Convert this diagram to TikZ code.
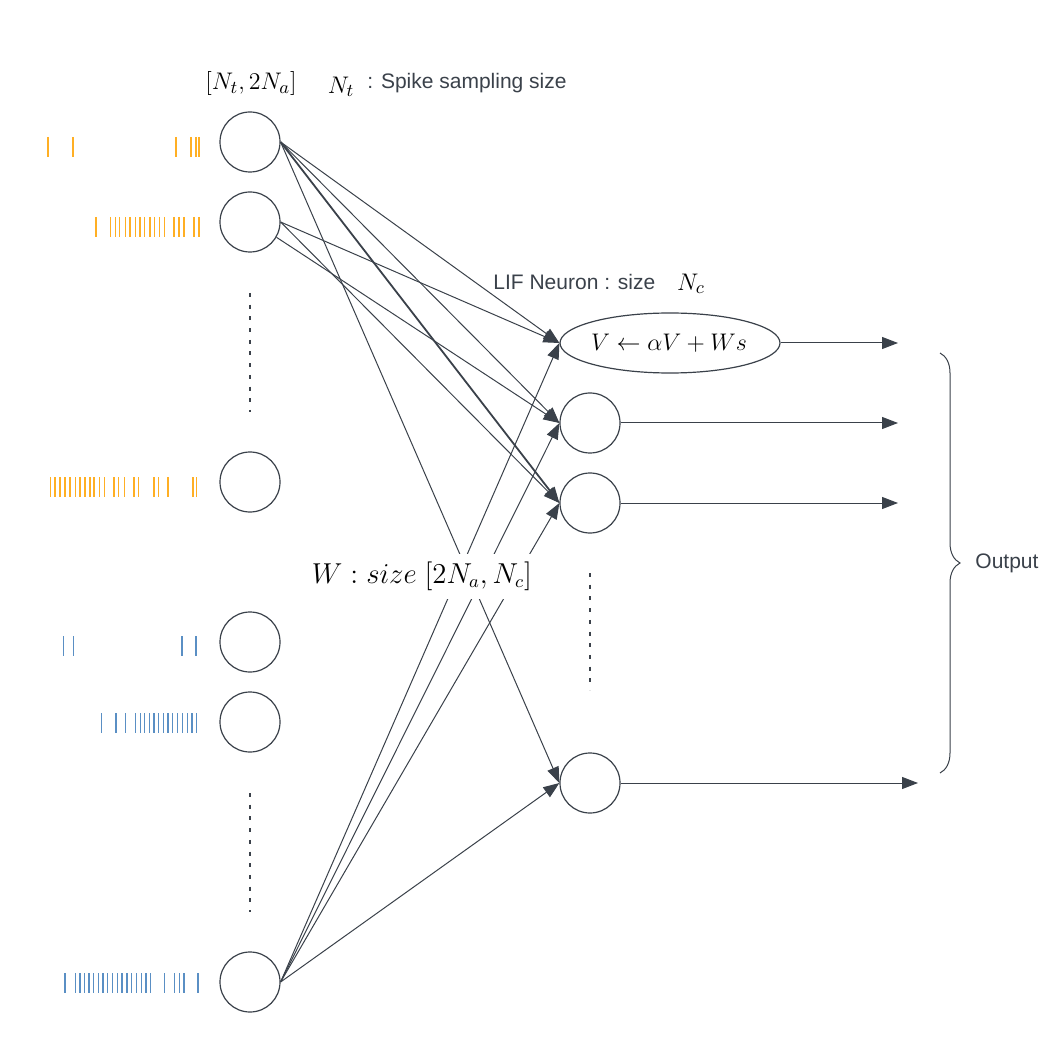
\documentclass[tikz,border=0pt]{standalone}
\usepackage{fontspec}
\newfontfamily\lsans{Liberation Sans}
\usetikzlibrary{arrows.meta,shapes.geometric,decorations.pathreplacing}
\definecolor{ln}{HTML}{3A414A}
\definecolor{spo}{HTML}{FFAF24}
\definecolor{spb}{HTML}{5A8FC4}
\begin{document}
\begin{tikzpicture}[x=0.5pt,y=-0.5pt,
 neuron/.style={circle,draw=ln,line width=0.6pt,minimum size=30pt,inner sep=0pt},
 lif/.style={ellipse,draw=ln,line width=0.6pt,minimum width=110pt,minimum height=30pt,inner sep=0pt},
 conn/.style={draw=ln,line width=0.5pt,-{Triangle[length=8pt,width=6pt]}},
 dotcol/.style={draw=ln,line width=0.75pt,dash pattern=on 2pt off 3.85pt},
 lbl/.style={text=ln,font=\lsans\fontsize{10.5}{12}\selectfont,inner sep=0pt},
 mlbl/.style={text=black,inner sep=0pt},
 spko/.style={draw=spo,line width=0.75pt},
 spkb/.style={draw=spb,line width=0.75pt}]
\useasboundingbox (0,0) rectangle (1060,1053);

% spike trains
\foreach \x in {48,73,176,191,196,199} \draw[spko] (\x,137) -- (\x,157);
\foreach \x in {96,110.7,115.3,119.3,125.7,130,135.3,140,144.7,150,154.3,159.3,164.3,174,179,184,194,199} \draw[spko] (\x,217) -- (\x,237);
\foreach \x in {50.7,55,60,65,70,75.3,80,85,90,94,99.3,104.7,114,118.7,124.3,134,138.7,154,158.7,168,193,196.7} \draw[spko] (\x,477) -- (\x,497);
\foreach \x in {63.7,73.7,182,196} \draw[spkb] (\x,636) -- (\x,656);
\foreach \x in {101.7,116,125.3,135.3,140.3,144.7,149.3,154,158.7,163.3,168,172.7,177.3,182.7,187.3,192,196.7} \draw[spkb] (\x,713) -- (\x,733);
\foreach \x in {65,75.3,80,84.3,89,93.7,98.3,103,107.7,112.7,117.3,122,127,131.7,136.3,141.3,146,150.7,164.3,174.7,179.3,184,198} \draw[spkb] (\x,973) -- (\x,993);

% input neurons
\node[neuron] (c1) at (250,142) {};
\node[neuron] (c2) at (250,222) {};
\node[neuron] (c3) at (250,482) {};
\node[neuron] (c4) at (250,642) {};
\node[neuron] (c5) at (250,722) {};
\node[neuron] (c6) at (250,982) {};

% LIF neurons
\node[lif] (e1) at (670,343) {};
\node[mlbl,font=\fontsize{12.8}{15}\selectfont] (eq) at (669,343) {$V \leftarrow \alpha V + Ws$};
\node[neuron] (r2) at (590,423) {};
\node[neuron] (r3) at (590,503) {};
\node[neuron] (r4) at (590,783) {};

% dotted columns
\draw[dotcol] (250,293) -- (250,412);
\draw[dotcol] (250,793) -- (250,912);
\draw[dotcol] (590,573) -- (590,690);

% weights
\draw[conn] (c1.east) -- (e1.west);
\draw[conn] (c1.east) -- (r2.west);
\draw[conn,line width=0.9pt] (c1.east) -- (r3.west);
\draw[conn] (c1.east) -- (r4.west);
\draw[conn] (c2.east) -- (e1.west);
\draw[conn] (c2.-30) -- (r2.west);
\draw[conn] (c2.east) -- (r3.west);
\draw[conn] (c6.east) -- (e1.west);
\draw[conn] (c6.east) -- (r2.west);
\draw[conn] (c6.east) -- (r3.west);
\draw[conn] (c6.east) -- (r4.west);

% outputs
\coordinate (o1) at (898,343);
\coordinate (o2) at (898,423);
\coordinate (o3) at (898,503);
\coordinate (o4) at (918,783);
\draw[conn] (e1.east) -- (o1);
\draw[conn] (r2.east) -- (o2);
\draw[conn] (r3.east) -- (o3);
\draw[conn] (r4.east) -- (o4);

% brace
\draw[draw=ln,line width=0.5pt,decorate,decoration={brace,amplitude=10pt}] (940,353) -- (940,773);
\node[lbl,anchor=west] (out) at (975,563) {Output};

% labels
\node[mlbl,font=\fontsize{12.5}{15}\selectfont] (shape) at (251,84) {$[N_t, 2N_a]$};
\node[mlbl,font=\fontsize{12.5}{15}\selectfont] (nt) at (341,87) {$N_t$};
\node[lbl,anchor=west] (ss) at (367,83) {: Spike sampling size};
\node[lbl,anchor=west] (lifl) at (493,282) {LIF Neuron : size};
\node[mlbl,font=\fontsize{13}{15}\selectfont] (nc) at (691,284) {$N_c$};
\node[mlbl,fill=white,font=\fontsize{13.5}{16}\selectfont,inner xsep=4pt,minimum height=22.5pt] (wl) at (422,576) {$W : size\;[2N_a, N_c]$};
\end{tikzpicture}
\end{document}
